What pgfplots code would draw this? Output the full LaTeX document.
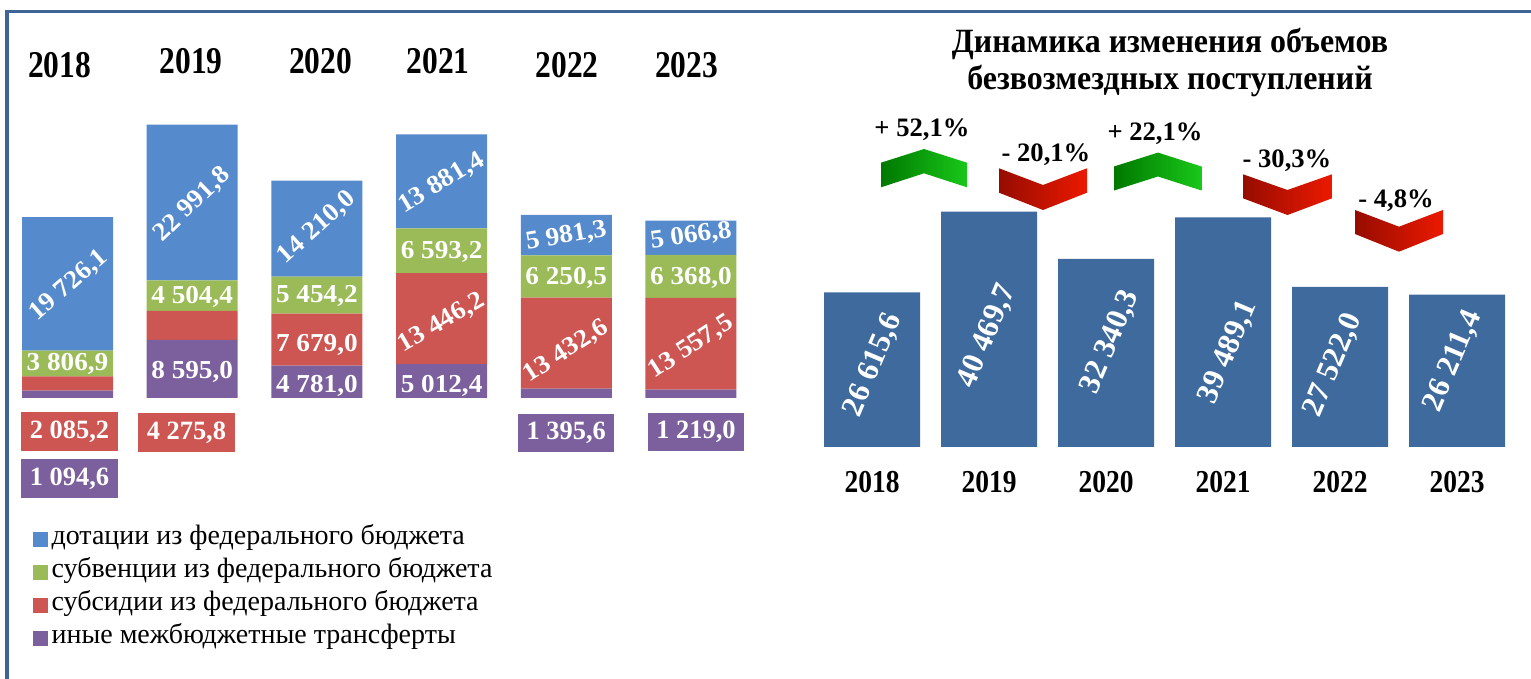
\documentclass[border=0pt]{standalone}
\usepackage{fontspec}
\setmainfont{Liberation Serif}
\usepackage{graphicx}
\usepackage{pgfplots}
\pgfplotsset{compat=1.18}

\definecolor{cBlue}{RGB}{85,138,204}
\definecolor{cGreen}{RGB}{155,187,89}
\definecolor{cRed}{RGB}{205,86,83}
\definecolor{cPurple}{RGB}{124,96,157}
\definecolor{cBar}{RGB}{62,106,158}
\definecolor{cFrame}{RGB}{63,100,150}
\definecolor{gDark}{RGB}{0,120,0}
\definecolor{gLight}{RGB}{25,200,25}
\definecolor{rDark}{RGB}{150,12,0}
\definecolor{rLight}{RGB}{236,25,0}

\newcommand{\yr}[1]{\scalebox{1}[1.2]{\fontsize{15.75}{18}\selectfont\bfseries #1}}
\newcommand{\bl}[1]{\scalebox{1}[0.95]{\fontsize{13.6}{16}\selectfont\bfseries #1}}
\newcommand{\bx}[1]{{\fontsize{13.2}{16}\selectfont\bfseries #1}}
\newcommand{\rl}[1]{{\fontsize{15.5}{18}\selectfont\bfseries #1}}
\newcommand{\pc}[1]{{\fontsize{13.3}{15}\selectfont\bfseries #1}}
\newcommand{\xl}[1]{\scalebox{1}[1.16]{\fontsize{13.75}{16}\selectfont\bfseries #1}}
\newcommand{\ttl}[1]{\scalebox{0.94}[1]{\fontsize{17}{20}\selectfont\bfseries #1}}

\pgfplotsset{lsq/.style={legend image code/.code={\fill[#1] (0pt,-3.7pt) rectangle (7.3pt,3.7pt);}},
  leftgeom/.style={at={(2.575pt,140.5pt)}, anchor=south west,
  scale only axis, width=374.1pt, height=152.33pt,
  xmin=-0.5, xmax=5.5, ymin=0, ymax=45000, hide axis, clip=false}}
\tikzset{wl/.style={text=white, inner sep=0pt}}

\begin{document}
\begin{tikzpicture}
\path[use as bounding box] (0,0) rectangle (765.5pt,339.5pt);
\draw[cFrame, line width=1.6pt] (3.5pt,0pt) -- (3.5pt,333.75pt) -- (765.5pt,333.75pt);

\begin{axis}[
  leftgeom,
  ybar stacked, bar width=45.5pt,
  reverse legend,
  legend style={draw=none, fill=none, inner sep=0pt, outer sep=0pt,
    at={(axis description cs:0.0372,-0.409)}, anchor=north west,
    font=\fontsize{14}{16}\selectfont, row sep=0pt,
    nodes={inner xsep=2pt, inner ysep=0pt, text height=11pt, text depth=5.5pt},
    /tikz/every even column/.append style={column sep=0pt}},
  legend cell align=left,
]
\addplot[fill=cPurple, draw=none, lsq] coordinates {(0,1094.6) (1,8595.0) (2,4781.0) (3,5012.4) (4,1395.6) (5,1219.0)};
\addlegendentry{иные межбюджетные трансферты}
\addplot[fill=cRed, draw=none, lsq] coordinates {(0,2085.2) (1,4275.8) (2,7679.0) (3,13446.2) (4,13432.6) (5,13557.5)};
\addlegendentry{субсидии из федерального бюджета}
\addplot[fill=cGreen, draw=none, lsq] coordinates {(0,3806.9) (1,4504.4) (2,5454.2) (3,6593.2) (4,6250.5) (5,6368.0)};
\addlegendentry{субвенции из федерального бюджета}
\addplot[fill=cBlue, draw=none, lsq] coordinates {(0,19726.1) (1,22991.8) (2,14210.0) (3,13881.4) (4,5981.3) (5,5066.8)};
\addlegendentry{дотации из федерального бюджета}
\end{axis}

% overlay axis with the same geometry for the labels of the left chart
\begin{axis}[leftgeom]
\node[anchor=base, inner sep=0pt] at (axis cs:-0.064,47382) {\yr{2018}};
\node[anchor=base, inner sep=0pt] at (axis cs:0.992,47899) {\yr{2019}};
\node[anchor=base, inner sep=0pt] at (axis cs:2.03,47899) {\yr{2020}};
\node[anchor=base, inner sep=0pt] at (axis cs:2.973,47899) {\yr{2021}};
\node[anchor=base, inner sep=0pt] at (axis cs:4.006,47382) {\yr{2022}};
\node[anchor=base, inner sep=0pt] at (axis cs:4.965,47382) {\yr{2023}};

\node[wl, rotate=41] at (axis cs:0.01,16587) {\bl{19 726,1}};
\node[wl, rotate=44] at (axis cs:1.0,28550) {\bl{22 991,8}};
\node[wl, rotate=42] at (axis cs:2.0,25153) {\bl{14 210,0}};
\node[wl, rotate=31] at (axis cs:3.0,31755) {\bl{13 881,4}};
\node[wl, rotate=30] at (axis cs:3.0,11077) {\bl{13 446,2}};
\node[wl, rotate=10] at (axis cs:4.0,23883) {\bl{5 981,3}};
\node[wl, rotate=8] at (axis cs:5.0,23883) {\bl{5 066,8}};
\node[wl] at (axis cs:4.0,17798) {\bl{6 250,5}};
\node[wl] at (axis cs:5.0,17798) {\bl{6 368,0}};
\node[wl, rotate=33] at (axis cs:4.0,6898) {\bl{13 432,6}};
\node[wl, rotate=33] at (axis cs:5.0,7533) {\bl{13 557,5}};
\node[wl] at (axis cs:0,5081) {\bl{3 806,9}};
\node[wl] at (axis cs:1,14918) {\bl{4 504,4}};
\node[wl] at (axis cs:2,15065) {\bl{5 454,2}};
\node[wl] at (axis cs:3,21638) {\bl{6 593,2}};
\node[wl] at (axis cs:2,7858) {\bl{7 679,0}};
\node[wl] at (axis cs:1,3840) {\bl{8 595,0}};
\node[wl] at (axis cs:2,1846) {\bl{4 781,0}};
\node[wl] at (axis cs:3,1846) {\bl{5 012,4}};
\node[wl, fill=cRed, minimum width=48.5pt, minimum height=19.5pt] at (axis cs:0.016,-4948) {\bx{2 085,2}};
\node[wl, fill=cPurple, minimum width=48.5pt, minimum height=19.5pt] at (axis cs:0.016,-11890) {\bx{1 094,6}};
\node[wl, fill=cRed, minimum width=48.5pt, minimum height=19.5pt] at (axis cs:0.954,-5096) {\bx{4 275,8}};
\node[wl, fill=cPurple, minimum width=48pt, minimum height=19pt] at (axis cs:4.0,-5170) {\bx{1 395,6}};
\node[wl, fill=cPurple, minimum width=48pt, minimum height=19pt] at (axis cs:5.04,-5022) {\bx{1 219,0}};
\end{axis}

\begin{axis}[
  at={(406.75pt,116pt)}, anchor=south west,
  scale only axis, width=351pt, height=174.42pt,
  xmin=-0.5, xmax=5.5, ymin=0, ymax=60000, clip=false,
  axis lines*=left, axis line style={draw=none},
  ytick=\empty, xtick={0,1,2,3,4,5}, major tick length=0pt,
  xticklabels={\xl{2018},\xl{2019},\xl{2020},\xl{2021},\xl{2022},\xl{2023}},
  xticklabel style={inner sep=0pt, anchor=north, yshift=-12pt},
]
\addplot[ybar, bar width=48pt, fill=cBar, draw=none] coordinates {(0,26615.6) (1,40469.7) (2,32340.3) (3,39489.1) (4,27522.0) (5,26211.4)};

\addplot[draw=none, left color=gDark, right color=gLight, no markers, sharp plot] coordinates {(0.0769,44668) (0.0769,48900) (0.4444,51256) (0.8120,48900) (0.8120,44668) (0.4444,47076)} -- cycle;
\addplot[draw=none, left color=gDark, right color=gLight, no markers, sharp plot] coordinates {(2.0684,44118) (2.0684,48246) (2.4444,50637) (2.8162,48246) (2.8162,44118) (2.4444,46526)} -- cycle;
\addplot[draw=none, left color=rDark, right color=rLight, no markers, sharp plot] coordinates {(1.0855,47936) (1.4615,45064) (1.8376,47936) (1.8376,43740) (1.4615,40764) (1.0855,43740)} -- cycle;
\addplot[draw=none, left color=rDark, right color=rLight, no markers, sharp plot] coordinates {(3.1709,46904) (3.5513,44204) (3.9316,46904) (3.9316,42776) (3.5513,39904) (3.1709,42776)} -- cycle;
\addplot[draw=none, left color=rDark, right color=rLight, no markers, sharp plot] coordinates {(4.1282,40764) (4.5043,37892) (4.8803,40764) (4.8803,36636) (4.5043,33592) (4.1282,36636)} -- cycle;

\node[inner sep=0pt] at (axis cs:0.427,54610) {\pc{+ 52,1\%}};
\node[inner sep=0pt] at (axis cs:1.487,50224) {\pc{- 20,1\%}};
\node[inner sep=0pt] at (axis cs:2.419,53836) {\pc{+ 22,1\%}};
\node[inner sep=0pt] at (axis cs:3.547,49192) {\pc{- 30,3\%}};
\node[inner sep=0pt] at (axis cs:4.479,42364) {\pc{- 4,8\%}};

\node[wl, rotate=67] at (axis cs:0.009,14104) {\rl{26 615,6}};
\node[wl, rotate=67] at (axis cs:0.983,19092) {\rl{40 469,7}};
\node[wl, rotate=67] at (axis cs:2.034,18060) {\rl{32 340,3}};
\node[wl, rotate=67] at (axis cs:3.043,16340) {\rl{39 489,1}};
\node[wl, rotate=67] at (axis cs:3.94,14104) {\rl{27 522,0}};
\node[wl, rotate=67] at (axis cs:4.966,14792) {\rl{26 211,4}};

\node[anchor=base, inner sep=0pt] at (axis cs:2.547,67768) {\ttl{Динамика изменения объемов}};
\node[anchor=base, inner sep=0pt] at (axis cs:2.547,61490) {\ttl{безвозмездных поступлений}};
\end{axis}
\end{tikzpicture}
\end{document}
